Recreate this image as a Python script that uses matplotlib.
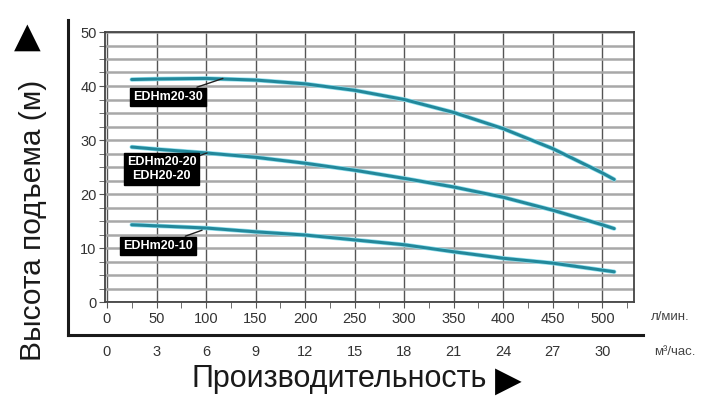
import numpy as np
import matplotlib
matplotlib.use('Agg')
import matplotlib.pyplot as plt
from matplotlib.lines import Line2D

plt.rcParams['font.family'] = ['Liberation Sans', 'DejaVu Sans']

# расход, л/мин
flow = [25, 50, 100, 150, 200, 250, 300, 350, 400, 450, 500, 512]
# напор, м
head_30 = [41.2, 41.3, 41.4, 41.1, 40.4, 39.2, 37.5, 35.1, 32.1, 28.4, 23.9, 22.7]
head_20 = [28.7, 28.3, 27.6, 26.8, 25.7, 24.4, 22.9, 21.3, 19.4, 17.0, 14.3, 13.6]
head_10 = [14.3, 14.1, 13.7, 13.0, 12.4, 11.5, 10.6, 9.3, 8.1, 7.2, 5.9, 5.6]

x_ticks = [0, 50, 100, 150, 200, 250, 300, 350, 400, 450, 500]
m3_ticks = [0, 3, 6, 9, 12, 15, 18, 21, 24, 27, 30]
y_ticks = [0, 10, 20, 30, 40, 50]

labels = ['EDHm20-30', 'EDHm20-20\nEDH20-20', 'EDHm20-10']
label_pos = [(62, 38.0), (55, 24.6), (52, 10.4)]
label_tip = [(117, 41.4), (101, 27.6), (96, 13.3)]

line_col = '#23889b'

fig = plt.figure(figsize=(7.07, 4.03), dpi=100)
ax = fig.add_axes([105 / 707, 1 - 302 / 403, 529 / 707, 270 / 403])

for h in [head_30, head_20, head_10]:
    ax.plot(flow, h, color='#8fe0ee', lw=3.2, solid_capstyle='round', zorder=3)
    ax.plot(flow, h, color=line_col, lw=2.2, solid_capstyle='round', zorder=4)

for txt, pos, tip in zip(labels, label_pos, label_tip):
    ax.annotate(txt, xy=tip, xytext=pos, ha='center', va='center',
                color='white', fontsize=9, fontweight='bold', linespacing=1.25,
                bbox=dict(boxstyle='square,pad=0.25', fc='black', ec='black'),
                arrowprops=dict(arrowstyle='-', color='#222222', lw=1.0,
                                shrinkA=0, shrinkB=0),
                zorder=5)

ax.set_xlim(-2, 532)
ax.set_ylim(0, 50)
ax.set_xticks(x_ticks)
ax.set_xticks(np.arange(25, 532, 50), minor=True)
ax.set_yticks(y_ticks)
ax.set_yticks(np.arange(0, 50.1, 2.5), minor=True)
ax.tick_params(axis='both', which='both', direction='out', length=4,
               color='#555555', labelsize=10.5, labelcolor='#333333', pad=2)
ax.tick_params(axis='x', which='major', pad=3)

ax.grid(axis='y', which='both', color='#a8a8a8', lw=1.8, zorder=1)
ax.grid(axis='x', which='major', color='#555555', lw=1.0, zorder=2)
ax.set_axisbelow(True)
for s in ax.spines.values():
    s.set_color('#444444')
    s.set_linewidth(1.3)

sec = ax.secondary_xaxis(-0.142, functions=(lambda q: q * 0.06, lambda q: q / 0.06))
sec.set_xticks(m3_ticks)
sec.tick_params(length=0, labelsize=10.5, labelcolor='#333333')
sec.spines['bottom'].set_visible(False)

fig.text(670 / 707, 1 - 317 / 403, 'л/мин.', ha='center', va='center',
         fontsize=9.5, color='#444444')
fig.text(675 / 707, 1 - 352 / 403, 'м³/час.', ha='center', va='center',
         fontsize=9.5, color='#444444')

# внешняя рамка
fig.add_artist(Line2D([68 / 707, 68 / 707], [1 - 20 / 403, 1 - 335 / 403],
                      color='#1a1a1a', lw=2.2))
fig.add_artist(Line2D([68 / 707, 643 / 707], [1 - 335 / 403, 1 - 335 / 403],
                      color='#1a1a1a', lw=2.2))

fig.text(33 / 707, 1 - 220 / 403, 'Высота подъема (м)', rotation=90,
         ha='center', va='center', fontsize=21.5, color='#1a1a1a')
fig.text(27 / 707, 1 - 37 / 403, '▲', ha='center', va='center',
         fontsize=25, color='black', family='DejaVu Sans')
fig.text(339 / 707, 1 - 379 / 403, 'Производительность', ha='center',
         va='center', fontsize=22, color='#1a1a1a')
fig.text(508 / 707, 1 - 381 / 403, '▶', ha='center', va='center',
         fontsize=25, color='black', family='DejaVu Sans')

fig.savefig('out.png', dpi=100)
